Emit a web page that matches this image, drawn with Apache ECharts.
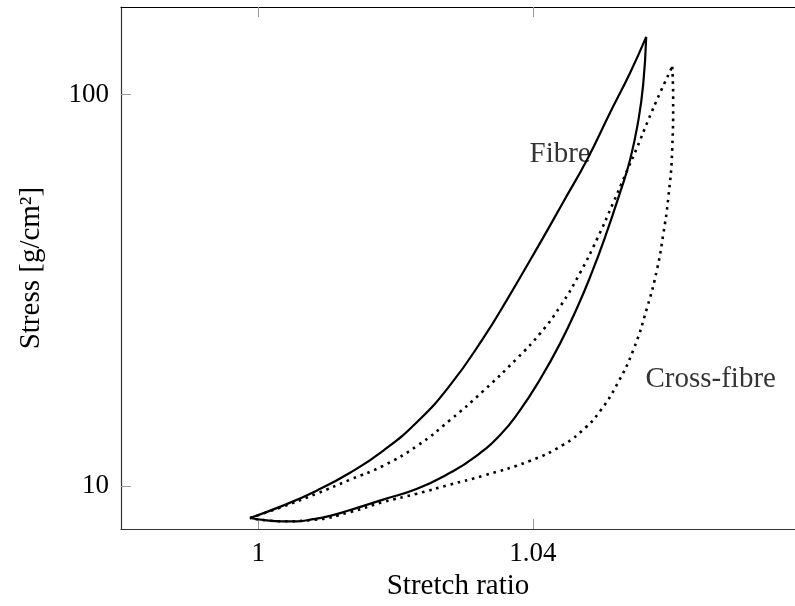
<!DOCTYPE html>
<html>
<head>
<meta charset="utf-8">
<script src="https://cdn.jsdelivr.net/npm/echarts@6/dist/echarts.min.js"></script>
<style>
  html, body { margin: 0; padding: 0; background: #fff; }
  #chart { width: 795px; height: 606px; }
</style>
</head>
<body>
<div id="chart"></div>
<script>
// Stretch ratio vs stress [g/cm^2]
var fibreLoading = [
  [0.99879, 8.283], [1.0036, 8.91], [1.0085, 9.73], [1.01337, 10.81],
  [1.01818, 12.30], [1.02314, 14.57], [1.02795, 18.10], [1.03276, 23.83],
  [1.03625, 29.94], [1.04107, 41.80], [1.04442, 53.1], [1.04792, 68.3],
  [1.05127, 90.0], [1.05418, 113.7], [1.05652, 140.4]
];
var fibreUnloading = [
  [1.05652, 140.4], [1.05608, 106.0], [1.05535, 85.4], [1.05419, 68.36],
  [1.05273, 56.34], [1.05054, 43.3], [1.04865, 35.28], [1.0466, 28.91],
  [1.04398, 23.14], [1.04107, 18.74], [1.03815, 15.63], [1.03524, 13.50],
  [1.03159, 11.87], [1.02795, 10.81], [1.02314, 9.84], [1.01818, 9.23],
  [1.01293, 8.63], [1.01045, 8.39], [1.00797, 8.225], [1.00564, 8.125],
  [1.00345, 8.125], [1.00098, 8.177], [0.99879, 8.283]
];
var crossLoading = [
  [0.99879, 8.283], [1.0036, 8.86], [1.0085, 9.56], [1.01337, 10.38],
  [1.01818, 11.26], [1.02314, 12.66], [1.02795, 14.74], [1.03276, 17.47],
  [1.03772, 21.20], [1.04107, 24.54], [1.04398, 28.73], [1.0469, 35.07],
  [1.04937, 42.8], [1.0517, 52.83], [1.05345, 62.24], [1.0552, 73.33],
  [1.0568, 85.9], [1.05856, 101.2], [1.06031, 117.8]
];
var crossUnloading = [
  [1.06031, 117.8], [1.06045, 97.1], [1.06031, 72.5], [1.05972, 54.1],
  [1.05899, 43.8], [1.05812, 35.9], [1.05666, 28.57], [1.05462, 22.21],
  [1.05229, 18.20], [1.04981, 15.54], [1.04762, 14.07], [1.04442, 12.74],
  [1.03961, 11.60], [1.03276, 10.62], [1.02795, 10.08], [1.02314, 9.56],
  [1.01818, 9.096], [1.01337, 8.578], [1.00797, 8.19], [1.00345, 8.125],
  [0.99879, 8.283]
];
var xTickValues = [1, 1.04];
var yTickValues = [10, 100];
var curveLabels = [
  { name: 'Fibre', value: [1.04398, 70.4] },
  { name: 'Cross-fibre', value: [1.06592, 18.74] }
];

var FONT = '"Liberation Serif", "DejaVu Serif", serif';
var chart = echarts.init(document.getElementById('chart'), null, { renderer: 'canvas' });

function lineSeries(data, dotted) {
  return {
    type: 'line',
    data: data,
    xAxisIndex: 0,
    yAxisIndex: 0,
    showSymbol: false,
    symbol: 'none',
    smooth: 0.5,
    silent: true,
    lineStyle: dotted
      ? { color: '#000', width: 2.6, type: [2.6, 4.8], cap: 'butt' }
      : { color: '#000', width: 2.2 },
    z: 3
  };
}

chart.setOption({
  animation: false,
  backgroundColor: '#fff',
  grid: { left: 121, top: 7, right: 0, bottom: 74, containLabel: false },
  xAxis: [
    {
      type: 'value',
      min: 0.98,
      max: 1.0782,
      position: 'bottom',
      name: 'Stretch ratio',
      nameLocation: 'middle',
      nameGap: 35,
      nameTextStyle: { fontFamily: FONT, fontSize: 29, color: '#000' },
      axisLine: { show: true, lineStyle: { color: '#333', width: 1.2 } },
      axisTick: { show: true, inside: true, length: 10, customValues: xTickValues, lineStyle: { color: '#999', width: 1 } },
      axisLabel: {
        customValues: xTickValues,
        margin: 11,
        fontFamily: FONT, fontSize: 27, color: '#000',
        formatter: function (v) { return String(v); }
      },
      splitLine: { show: false }
    },
    {
      type: 'value',
      min: 0.98,
      max: 1.0782,
      position: 'top',
      axisLine: { show: true, lineStyle: { color: '#000', width: 1.2 } },
      axisTick: { show: true, inside: true, length: 10, customValues: xTickValues, lineStyle: { color: '#999', width: 1 } },
      axisLabel: { show: false },
      splitLine: { show: false }
    }
  ],
  yAxis: [
    {
      type: 'log',
      logBase: 10,
      min: 7.76,
      max: 167.4,
      name: 'Stress [g/cm²]',
      nameLocation: 'middle',
      nameGap: 75,
      nameTextStyle: { fontFamily: FONT, fontSize: 29, color: '#000' },
      axisLine: { show: true, lineStyle: { color: '#333', width: 1.2 } },
      axisTick: { show: true, inside: true, length: 10, customValues: yTickValues, lineStyle: { color: '#999', width: 1 } },
      axisLabel: {
        customValues: yTickValues,
        margin: 12,
        padding: [4, 0, 0, 0],
        fontFamily: FONT, fontSize: 27, color: '#000',
        formatter: function (v) { return String(Math.round(v)); }
      },
      splitLine: { show: false },
      minorTick: { show: false }
    }
  ],
  series: [
    lineSeries(fibreLoading, false),
    lineSeries(fibreUnloading, false),
    lineSeries(crossLoading, true),
    lineSeries(crossUnloading, true),
    {
      type: 'scatter',
      data: curveLabels,
      symbolSize: 0,
      silent: true,
      z: 4,
      label: {
        show: true,
        position: 'inside',
        formatter: '{b}',
        fontFamily: FONT,
        fontSize: 29,
        color: '#000'
      }
    }
  ]
});
</script>
</body>
</html>
